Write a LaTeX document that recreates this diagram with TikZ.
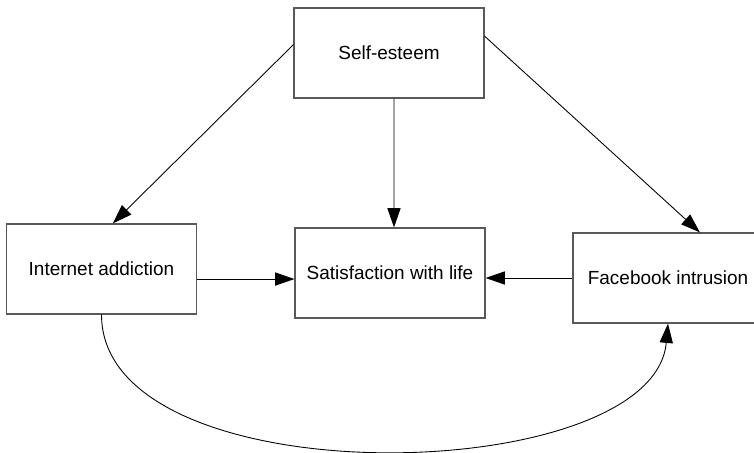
\documentclass[tikz,border=0pt]{standalone}
\usepackage{fontspec}
\setmainfont{Liberation Sans}
\usetikzlibrary{arrows.meta}
\begin{document}
\begin{tikzpicture}[x=0.02cm, y=-0.02cm, font=\fontsize{10.8}{13}\selectfont,
        box/.style={draw=black!65, line width=0.7pt, minimum width=3.8cm, minimum height=1.8cm, inner sep=0pt},
        arr/.style={-{Triangle[length=11pt,width=7.5pt]}, line width=0.5pt}]
            \useasboundingbox (0,0) rectangle (754,453);
            \node [box] (se) at (389,53) {Self-esteem};
            \node [box] (ia) at (101.5,269) {Internet addiction};
            \node [box] (sat) at (390,273) {Satisfaction with life};
            \node [box] (fb) at (668,278) {Facebook intrusion};
            \path[arr] (se.175) edge (ia.76);
            \path[arr] ([xshift=0.1cm]se.south) edge ([xshift=0.08cm]sat.north);
            \path[arr] (se.10) edge (fb.55);
            \path[arr] (ia.-6) edge (ia.-6 -| sat.west);
            \path[arr] (fb.west) edge (fb.west -| sat.east);
            \draw[arr] (ia.south) .. controls +(0,185) and +(-15,165) .. (fb.south);
        \end{tikzpicture}
\end{document}
